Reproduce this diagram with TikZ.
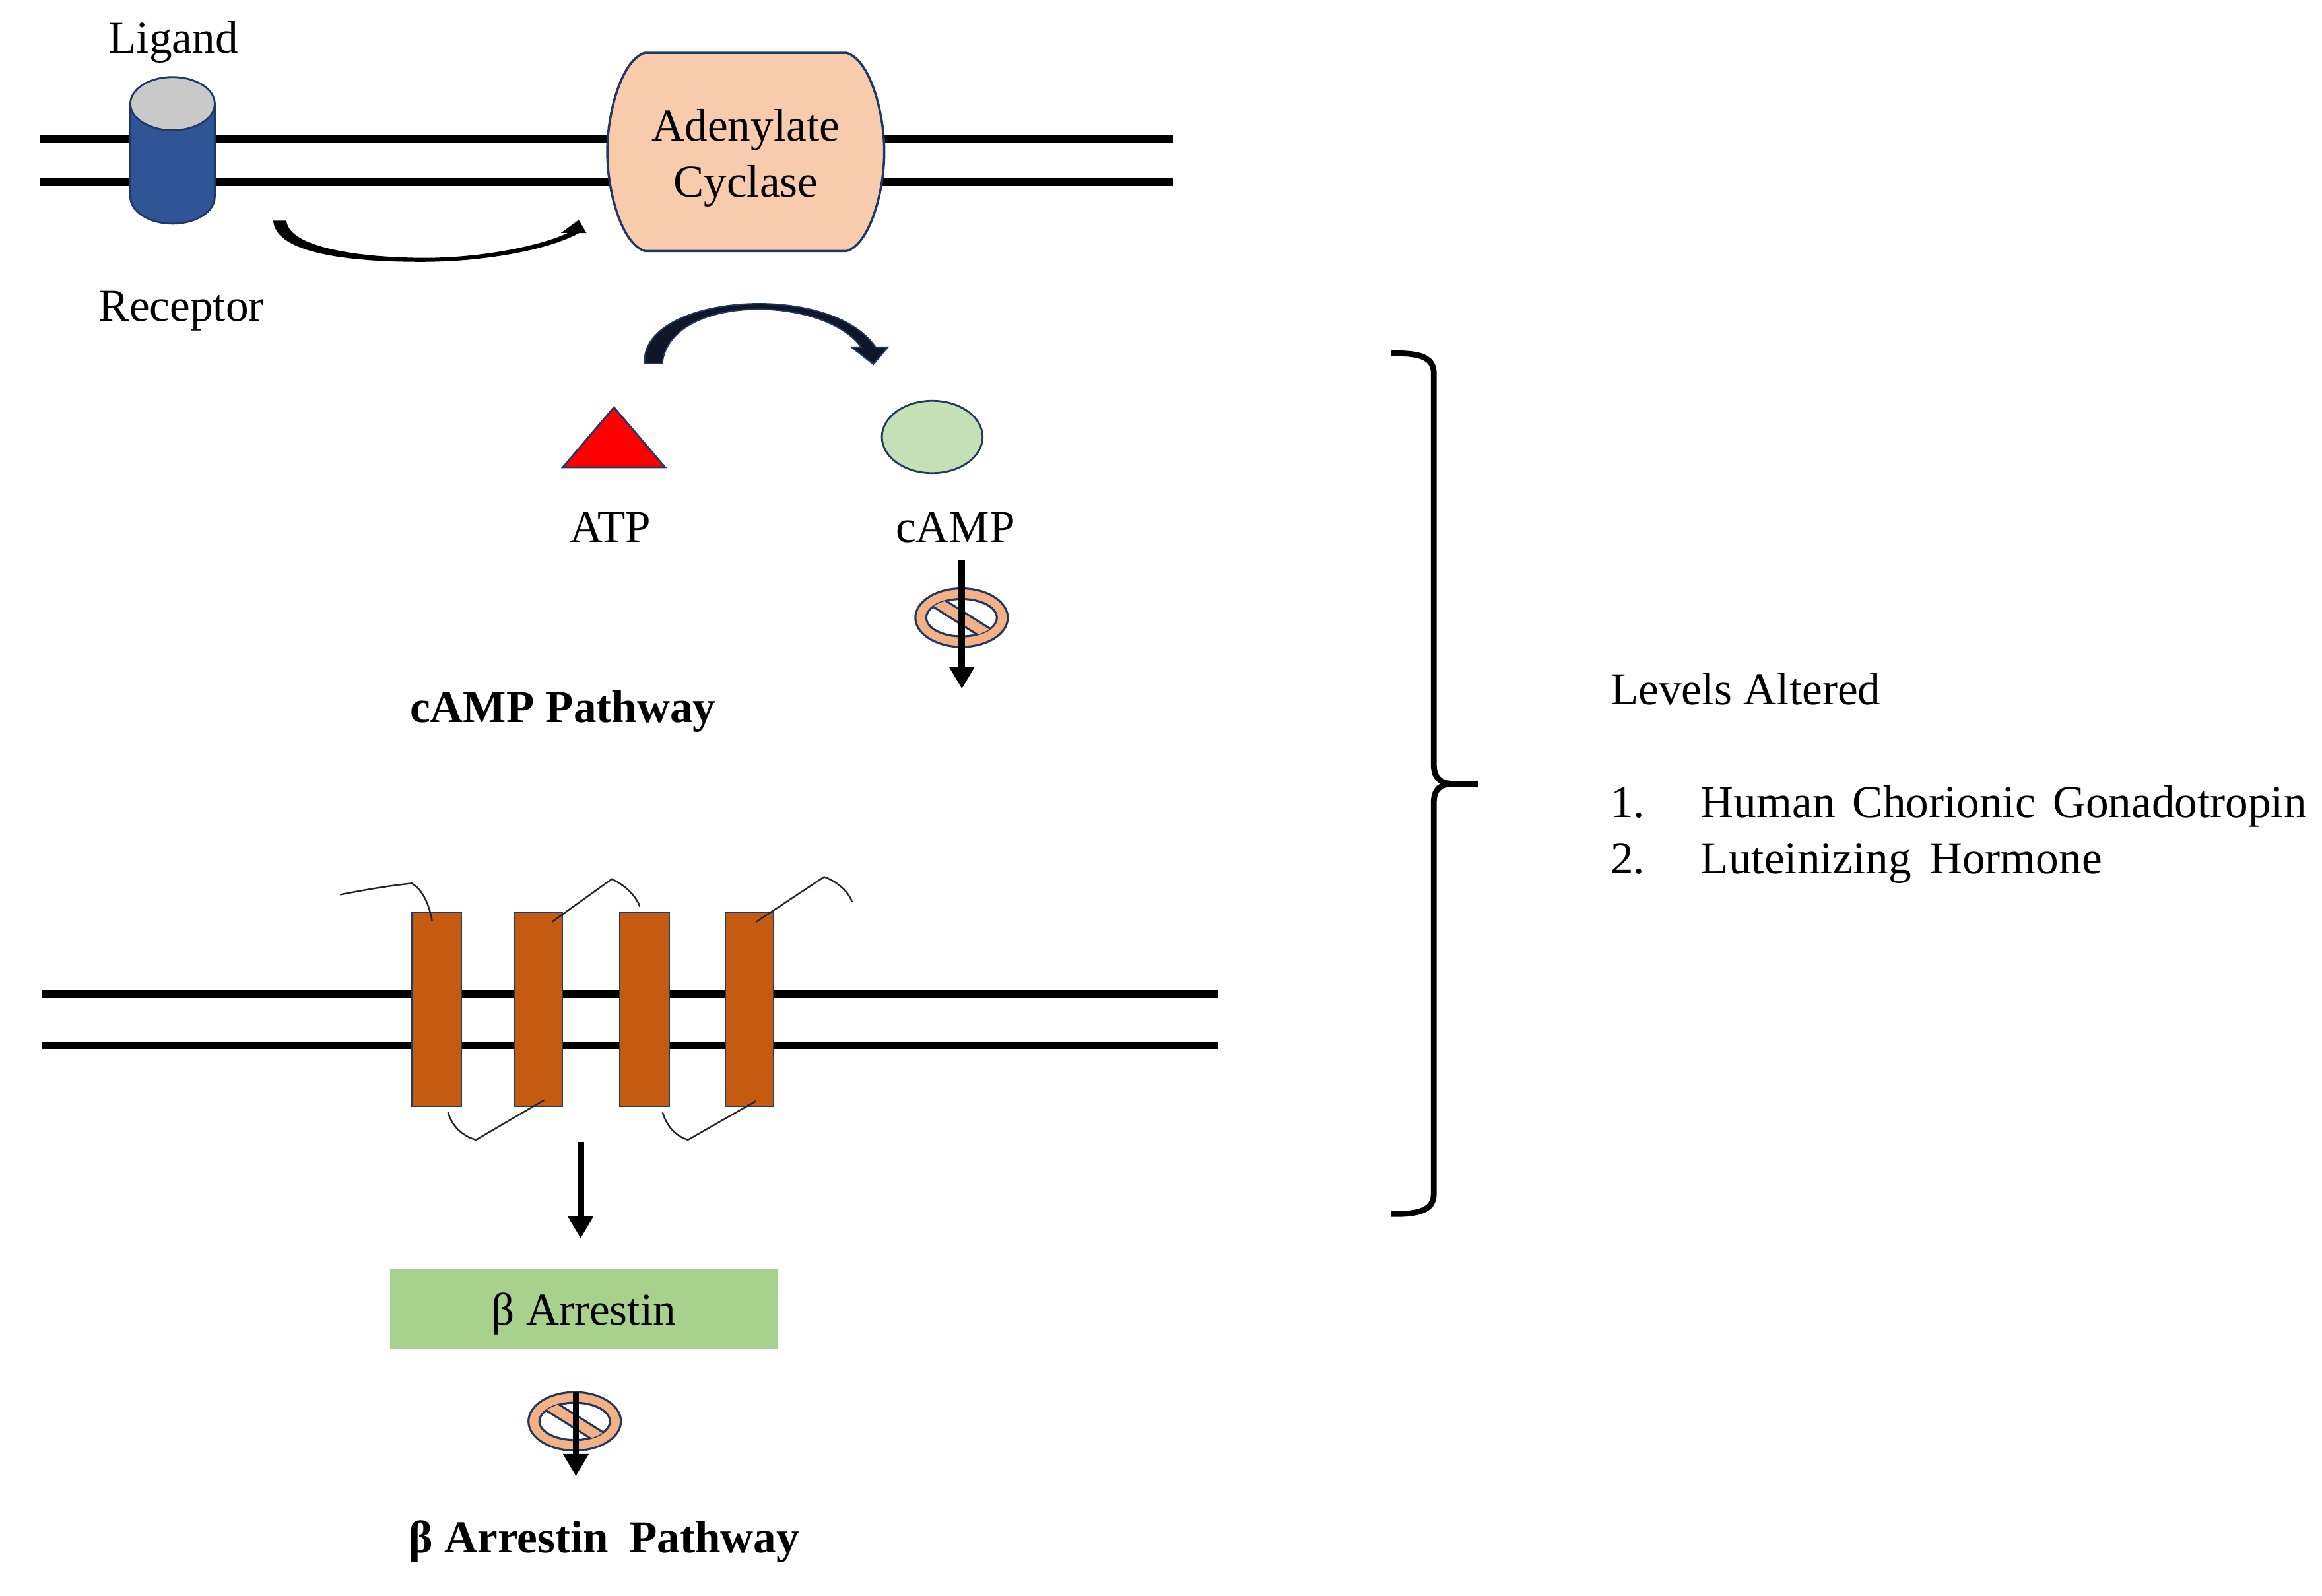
\documentclass[tikz,border=0pt]{standalone}
\usepackage{fontspec}
\setmainfont{Liberation Serif}
\usetikzlibrary{arrows.meta}
\definecolor{recblue}{HTML}{2F5597}
\definecolor{outl}{HTML}{203864}
\definecolor{ligray}{HTML}{C9C9C9}
\definecolor{peach}{HTML}{F8CBAD}
\definecolor{campgreen}{HTML}{C5E0B4}
\definecolor{noorange}{HTML}{F4B183}
\definecolor{gpcrbrown}{HTML}{C55A11}
\definecolor{arrgreen}{HTML}{A9D18E}
\definecolor{navy}{HTML}{0E1628}
\begin{document}
\begin{tikzpicture}[x=0.02244cm,y=-0.02244cm,
  lbl/.style={inner sep=0pt, font=\fontsize{19.7pt}{23.6pt}\selectfont},
  blbl/.style={inner sep=0pt, font=\fontsize{19.7pt}{23.6pt}\selectfont\bfseries},
  membrane/.style={line width=3.3pt, black},
  outline/.style={draw=outl, line width=0.8pt},
  arr/.style={line width=2.8pt, -{Triangle[width=10.5pt,length=9.5pt]}},
  tmloop/.style={line width=0.7pt, black!85},
  nosym/.pic={
    \filldraw[fill=noorange, draw=outl, line width=0.9pt, even odd rule]
      (0,0) ellipse (31.2 and 19.7) (0,0) ellipse (23.8 and 12.6);
    \begin{scope}
      \clip (0,0) ellipse (23.8 and 12.6);
      \filldraw[fill=noorange, draw=outl, line width=0.9pt]
        (-23.3,-19.4) -- (27.5,12.6) -- (23.3,19.4) -- (-27.5,-12.6) -- cycle;
    \end{scope}
  }]
\useasboundingbox (0,0) rectangle (1567.7,1077.5);

% ---------- top membrane ----------
\coordinate (m1l) at (27,93.6);  \coordinate (m1r) at (792,93.6);
\coordinate (m2l) at (27,123);   \coordinate (m2r) at (792,123);
\draw[membrane] (m1l) -- (m1r);
\draw[membrane] (m2l) -- (m2r);

% receptor cylinder
\filldraw[fill=recblue, outline] (88,70) -- (88,133)
  .. controls (88,142.9) and (100.8,151) .. (116.5,151)
  .. controls (132.2,151) and (145,142.9) .. (145,133) -- (145,70) -- cycle;
\filldraw[fill=ligray, outline] (116.5,70) ellipse (28.5 and 18);
\node[lbl, anchor=base] (ligand) at (117,36) {Ligand};
\node[lbl, anchor=base] (receptor) at (122.5,216.6) {Receptor};

% adenylate cyclase (barrel shape)
\filldraw[fill=peach, outline, line width=1pt] (435.5,35.7) -- (571.5,35.7)
  .. controls (587,40) and (597,75) .. (597,102.6)
  .. controls (597,130) and (587,165) .. (571.5,169.5) -- (435.5,169.5)
  .. controls (420,165) and (410,130) .. (410,102.6)
  .. controls (410,75) and (420,40) .. (435.5,35.7) -- cycle;
\node[lbl, anchor=base] (ac1) at (503.5,95) {Adenylate};
\node[lbl, anchor=base] (ac2) at (503.5,133) {Cyclase};

% receptor -> adenylate cyclase (tapered curved arrow)
\coordinate (rca) at (189,149);
\coordinate (rcb) at (390.7,148.5);
\fill[black] (184.5,149) .. controls (186,172) and (240,177) .. (286.6,176.8)
  .. controls (330,176.5) and (372,168) .. (391,157.3)
  -- (396,157.4) -- (rcb) -- (378.8,157.2) -- (383.5,157.2)
  .. controls (365,166) and (325,174.1) .. (286.6,174.1)
  .. controls (247,174) and (195,168) .. (193.4,149) -- cycle;

% ATP -> cAMP curved arrow (tapered)
\filldraw[fill=navy, draw=outl, line width=0.6pt]
  (435.2,245.5) .. controls (432,199) and (560,189) .. (591.2,234.4)
  -- (599.4,234.4) -- (589.7,245.9) -- (574.9,234.4) -- (581.5,234.4)
  .. controls (556,199) and (452,198) .. (447.1,245.5) -- cycle;

% ATP
\filldraw[fill=red, outline] (414.5,275) -- (449,315.5) -- (380,315.5) -- cycle;
\node[lbl, anchor=base] (atp) at (412,366) {ATP};

% cAMP
\filldraw[fill=campgreen, outline] (629.4,295) ellipse (34 and 24.4);
\node[lbl, anchor=base] (camp) at (645,366) {cAMP};

% cAMP blocked arrow
\pic at (649.2,417) {nosym};
\coordinate (campa) at (649.4,378);
\coordinate (campb) at (649.4,465);
\draw[arr] (campa) -- (campb);

\node[blbl, anchor=base] (camppath) at (380,487.6) {cAMP Pathway};

% ---------- lower membrane ----------
\coordinate (m3l) at (28.6,671);  \coordinate (m3r) at (822,671);
\coordinate (m4l) at (28.6,706);  \coordinate (m4r) at (822,706);
\draw[membrane] (m3l) -- (m3r);
\draw[membrane] (m4l) -- (m4r);

\foreach \xa/\xb in {278/311.6, 347/379.7, 418.6/452, 489.8/522.4}
  \filldraw[fill=gpcrbrown, draw=outl, line width=0.6pt] (\xa,616) rectangle (\xb,747);

% loops
\draw[tmloop] (229.6,604) .. controls (245,601) and (262,598) .. (278,596.4)
  .. controls (286,601) and (290,612) .. (291.7,621.7);
\draw[tmloop] (372.7,622.4) -- (413,593.5) .. controls (421,597) and (429,604) .. (432,612);
\draw[tmloop] (510.5,622.4) -- (556.4,592) .. controls (565,595) and (573,602) .. (575.3,609);
\draw[tmloop] (302.5,751) .. controls (305,760) and (312,767) .. (321.4,769.5) -- (367.3,742.7);
\draw[tmloop] (447.3,751) .. controls (450,760) and (456,767) .. (464.5,769.5) -- (510.5,743.3);

% GPCR -> beta arrestin
\node[fill=arrgreen, minimum width=5.88cm, minimum height=1.212cm, inner sep=0pt] (barr) at (394.2,884) {};
\node[lbl, anchor=base] (barrlbl) at (394,894.7) {β Arrestin};
\coordinate (gpcrout) at (392,771);
\coordinate (barrin) at (392,836);
\draw[arr] (gpcrout) -- (barrin);

% beta arrestin blocked arrow
\pic at (388,959.6) {nosym};
\coordinate (barra) at (388.8,940);
\coordinate (barrb) at (388.8,996.5);
\draw[arr] (barra) -- (barrb);

\node[blbl, anchor=base] (barrpath) at (408,1048.4) {β Arrestin\hspace{0.45em}Pathway};

% ---------- brace ----------
\coordinate (bt) at (939,238.7);
\coordinate (bm) at (998,529.2);
\coordinate (bb) at (939,819.6);
\draw[line width=2.5pt] (bt) .. controls (958,238) and (968,241) .. (968,252) -- (968,516)
  .. controls (968,525) and (972,529.2) .. (982,529.2) -- (bm);
\draw[line width=2.5pt] (bb) .. controls (958,820) and (968,817) .. (968,806) -- (968,542)
  .. controls (968,533) and (972,529.2) .. (982,529.2);

% ---------- text ----------
\node[lbl, anchor=base west] (levels) at (1087,475.5) {Levels Altered};
\node[lbl, anchor=base west] (n1) at (1087,552) {1.};
\node[lbl, anchor=base west] (hcg) at (1148,552) {\makebox[9.18cm][s]{Human Chorionic Gonadotropin}};
\node[lbl, anchor=base west] (n2) at (1087,589.6) {2.};
\node[lbl, anchor=base west] (lh) at (1148,589.6) {\makebox[6.08cm][s]{Luteinizing Hormone}};
\end{tikzpicture}
\end{document}
